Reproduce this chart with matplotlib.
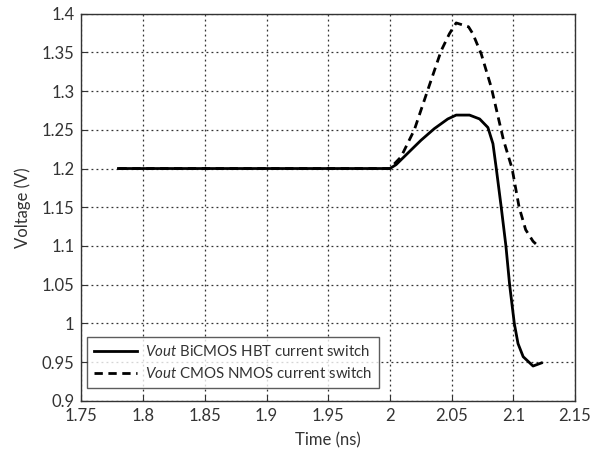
import matplotlib
matplotlib.use("Agg")
import matplotlib.pyplot as plt

plt.rcParams['font.family'] = ['Lato', 'DejaVu Sans']
plt.rcParams['mathtext.fontset'] = 'custom'
plt.rcParams['mathtext.rm'] = 'Lato'
plt.rcParams['mathtext.it'] = 'Lato:italic'

# BiCMOS HBT current switch (solid)
t_hbt = [1.78, 2.0, 2.005, 2.0146, 2.0252, 2.036, 2.0469, 2.0537, 2.0645, 2.0727,
         2.0794, 2.0835, 2.0862, 2.0902, 2.0940, 2.097, 2.1008, 2.1038, 2.108, 2.116, 2.1228]
v_hbt = [1.2, 1.2, 1.205, 1.22, 1.2365, 1.2515, 1.264, 1.269, 1.269, 1.264,
         1.253, 1.232, 1.20, 1.15, 1.10, 1.05, 1.0, 0.974, 0.957, 0.945, 0.949]

# CMOS NMOS current switch (dashed)
t_nmos = [1.78, 2.0, 2.009, 2.0198, 2.0306, 2.0415, 2.0482, 2.0537, 2.0637, 2.0672,
          2.074, 2.0821, 2.092, 2.099, 2.1047, 2.110, 2.116, 2.1214]
v_nmos = [1.2, 1.2, 1.215, 1.25, 1.301, 1.352, 1.374, 1.388, 1.383, 1.374,
          1.348, 1.305, 1.237, 1.20, 1.15, 1.121, 1.106, 1.098]

xticks = [1.75, 1.8, 1.85, 1.9, 1.95, 2.0, 2.05, 2.1, 2.15]
xticklabels = ['1.75', '1.8', '1.85', '1.9', '1.95', '2', '2.05', '2.1', '2.15']
yticks = [0.9, 0.95, 1.0, 1.05, 1.1, 1.15, 1.2, 1.25, 1.3, 1.35, 1.4]
yticklabels = ['0.9', '0.95', '1', '1.05', '1.1', '1.15', '1.2', '1.25', '1.3', '1.35', '1.4']

txt = '#333333'
fig = plt.figure(figsize=(6.03, 4.54), dpi=100)
ax = fig.add_axes([0.135, 0.117, 0.8186, 0.853])

ax.plot(t_hbt, v_hbt, color='black', lw=2.0, linestyle='-',
        label=r'$\it{Vout}$ BiCMOS HBT current switch')
ax.plot(t_nmos, v_nmos, color='black', lw=2.0, linestyle=(0, (3, 2)),
        label=r'$\it{Vout}$ CMOS NMOS current switch')

ax.set_xlim(1.75, 2.15)
ax.set_ylim(0.9, 1.4)
ax.set_xticks(xticks)
ax.set_xticklabels(xticklabels)
ax.set_yticks(yticks)
ax.set_yticklabels(yticklabels)
ax.tick_params(direction='in', labelsize=12, length=4, color='#333333',
               labelcolor=txt, pad=5)
ax.grid(True, linestyle=(0, (1.5, 2.5)), color='#333333', linewidth=0.9)
for s in ax.spines.values():
    s.set_color('#333333')
    s.set_linewidth(1.0)

ax.set_xlabel('Time (ns)', fontsize=12, labelpad=6, color=txt)
ax.set_ylabel('Voltage (V)', fontsize=12, labelpad=8, color=txt)

leg = ax.legend(loc='lower left', bbox_to_anchor=(0.011, 0.034), fontsize=10.8,
                frameon=True, fancybox=False, edgecolor='#333333',
                handlelength=2.9, handletextpad=0.5, borderpad=0.45,
                labelspacing=0.45, borderaxespad=0.0)
leg.get_frame().set_linewidth(1.0)
for t in leg.get_texts():
    t.set_color(txt)

fig.savefig('out.png', dpi=100)
